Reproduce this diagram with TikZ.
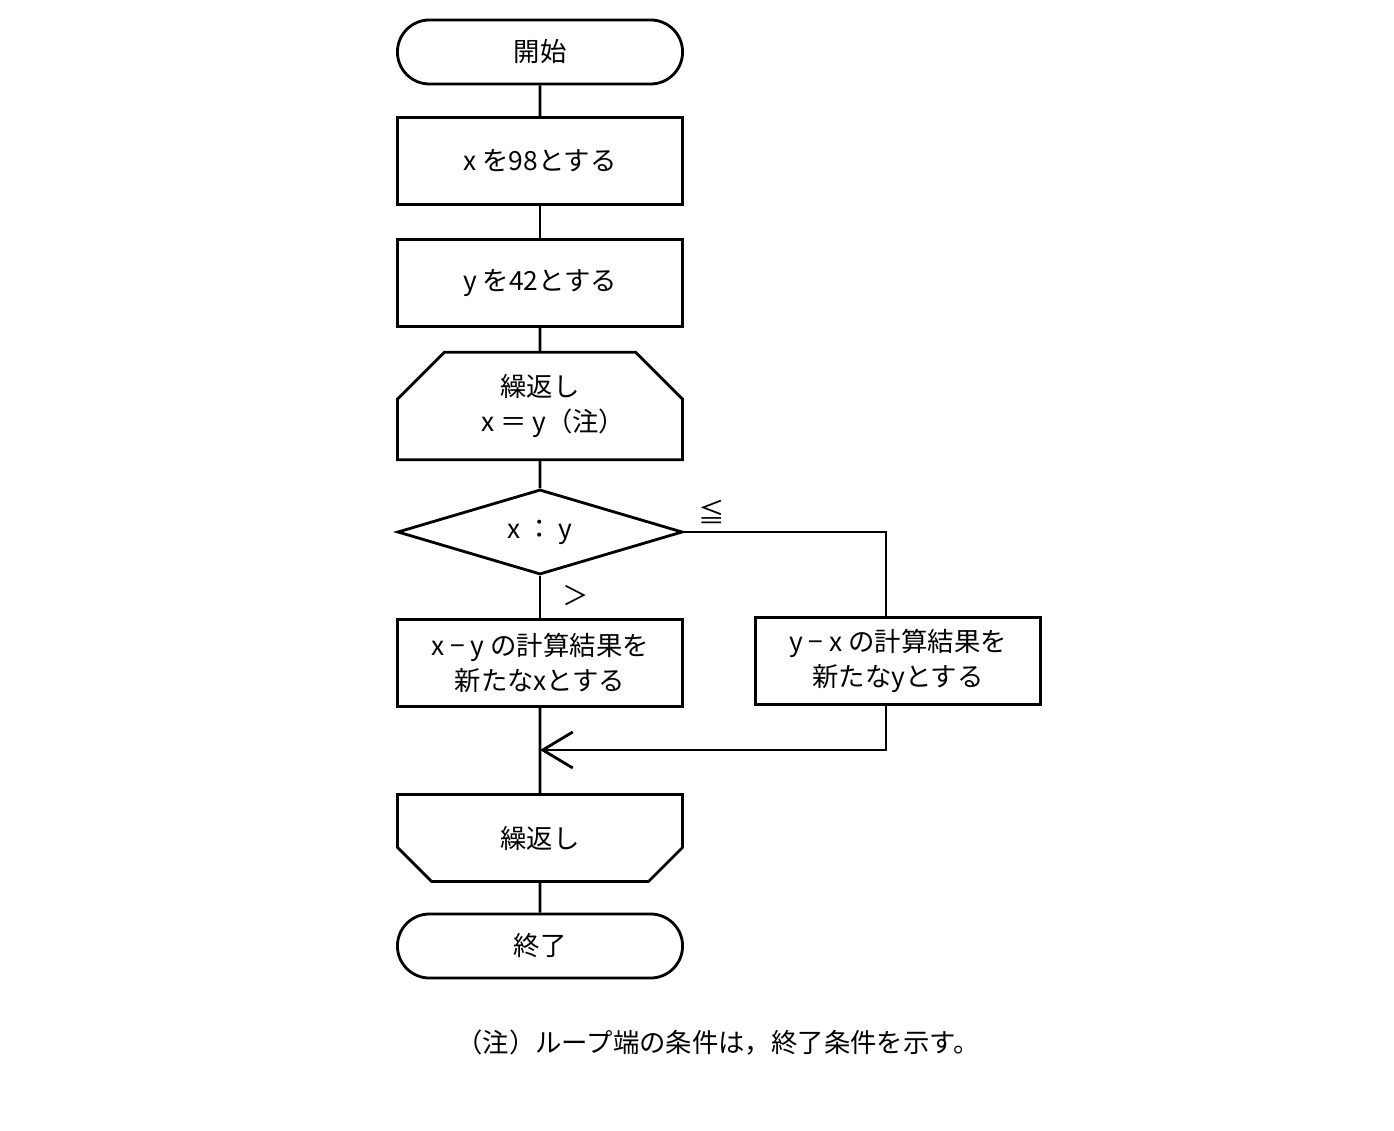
\documentclass[tikz,border=0pt]{standalone}
\usepackage{fontspec}
\setmainfont{Noto Sans CJK JP}
\usetikzlibrary{shapes.misc,shapes.geometric,arrows.meta}
\tikzset{
  base/.style={draw, thick, minimum width=2.85cm, minimum height=0.87cm, align=center, inner sep=0pt,
    font=\fontsize{7.5}{10}\selectfont},
  proc/.style={base, rectangle},
  term/.style={base, rounded rectangle, minimum height=0.64cm},
  loopbeg/.style={base, chamfered rectangle, chamfered rectangle corners={north west,north east},
    chamfered rectangle xsep=0.25cm, chamfered rectangle ysep=0.22cm},
  loopend/.style={base, chamfered rectangle, chamfered rectangle corners={south west,south east},
    chamfered rectangle xsep=0.25cm, chamfered rectangle ysep=0.22cm},
  dec/.style={base, diamond, aspect=3.3, minimum height=0.85cm},
  lbl/.style={font=\fontsize{7.5}{10}\selectfont},
  flow/.style={thick}
}
\begin{document}
\begin{tikzpicture}[x=0.01cm, y=-0.01cm]
\useasboundingbox (0,0) rectangle (1394,1131);
% main column
\node[term] (start) at (540,52) {開始};
\node[proc] (setx) at (540,161) {x を98とする};
\node[proc] (sety) at (540,283) {y を42とする};
\node[loopbeg] (lbeg) at (540,406) {繰返し\\\quad x ＝ y（注）};
\node[dec] (cmp) at (540,532) {x ： y};
\node[proc] (subx) at (540,663) {x − y の計算結果を\\新たなxとする};
\node[proc] (suby) at (898,661) {y − x の計算結果を\\新たなyとする};
\node[loopend] (lend) at (540,838) {繰返し};
\node[term] (stop) at (540,946) {終了};
\coordinate (merge) at (540,750);
\coordinate (turn) at (886,532);
% connectors
\draw[flow] (start) -- (setx);
\draw[flow] (setx) -- (sety);
\draw[flow] (sety) -- (lbeg);
\draw[flow] (lbeg) -- (cmp);
\draw[flow] (cmp) -- (subx);
\draw[flow] (cmp.east) -- (turn) -- (suby.north -| turn);
\draw[flow] (subx) -- (lend);
\draw[flow, -{Straight Barb[length=0.3cm, width=0.36cm]}] (suby.south -| turn) |- (merge);
\draw[flow] (lend) -- (stop);
% labels
\node[lbl] (le) at (712,512) {≦};
\node[lbl] (gt) at (576,596) {＞};
\node[lbl] (note) at (718,1043) {（注）ループ端の条件は，終了条件を示す。};
\end{tikzpicture}
\end{document}
